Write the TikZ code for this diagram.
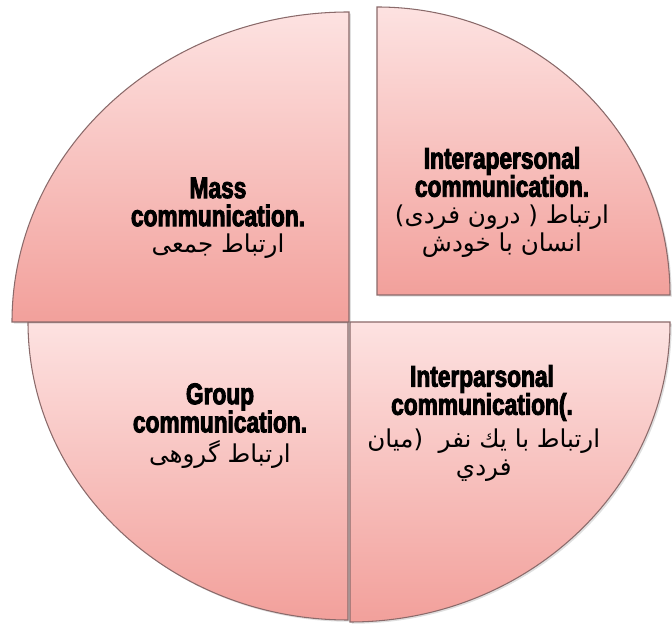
\documentclass[tikz,border=0pt]{standalone}
\usepackage{fontspec}
\newfontfamily\headfont{Liberation Sans Bold}[FakeStretch=0.76,FakeBold=3]
\newfontfamily\farsifont[Script=Arabic]{DejaVu Sans}
\TeXXeTstate=1
\usetikzlibrary{positioning,shadows}
\definecolor{pietop}{HTML}{FDE2E1}
\definecolor{piebottom}{HTML}{F2A09B}
\definecolor{pieline}{HTML}{8A6A6A}
\tikzset{
  every picture/.style = {
    x = 0.02cm,
    y = 0.02cm,
    node distance = 4pt and 4pt,
  }
  , % the four slices of the pie
  slice/.style = {
    draw = pieline,
    line width = 0.6pt,
    top color = pietop,
    bottom color = piebottom,
    drop shadow = {shadow xshift=1pt, shadow yshift=-1pt, opacity=0.25}
  }
  , % english heading
  head/.style = {
    font = \headfont\fontsize{17}{16}\selectfont,
    align = center,
    inner sep = 0pt
  }
  , % persian lines
  farsi/.style = {
    font = \farsifont\fontsize{14}{16}\selectfont,
    align = center,
    inner sep = 0pt
  }
}

\begin{document}
\begin{tikzpicture}
\useasboundingbox (0,0) rectangle (672,624);
% bottom slices first
\path[slice] (348,302) -- ++(-320,0) arc[start angle=180, end angle=270, x radius=320, y radius=298] -- cycle;
\path[slice] (350,302) -- ++(0,-300) arc[start angle=270, end angle=360, x radius=320, y radius=300] -- cycle;
% top slices
\path[slice] (349,302) -- ++(0,310) arc[start angle=90, end angle=180, x radius=337, y radius=310] -- cycle;
\path[slice] (377,329) -- ++(293,0) arc[start angle=0, end angle=90, x radius=293, y radius=288] -- cycle;

\node[head] (mass) at (218,422) {Mass\\communication.};
\node[farsi, below = 4pt of mass] (massfa) {\beginR ارتباط جمعی\endR};

\node[head] (intra) at (502,452) {Interapersonal\\communication.};
\node[farsi, below = 4pt of intra] (intrafa) {\beginR ارتباط ( درون فردی)\endR\\\beginR انسان با خودش\endR};

\node[head] (group) at (220,216) {Group\\communication.};
\node[farsi, below = 4pt of group] (groupfa) {\beginR ارتباط گروهی\endR};

\node[head] (inter) at (482,231) {Interparsonal\\communication(.};
\node[farsi, below = 4pt of inter, xshift=1pt] (interfa) {\beginR ارتباط با يك نفر\ \ (ميان\endR\\\beginR فردي\endR};
\end{tikzpicture}
\end{document}
